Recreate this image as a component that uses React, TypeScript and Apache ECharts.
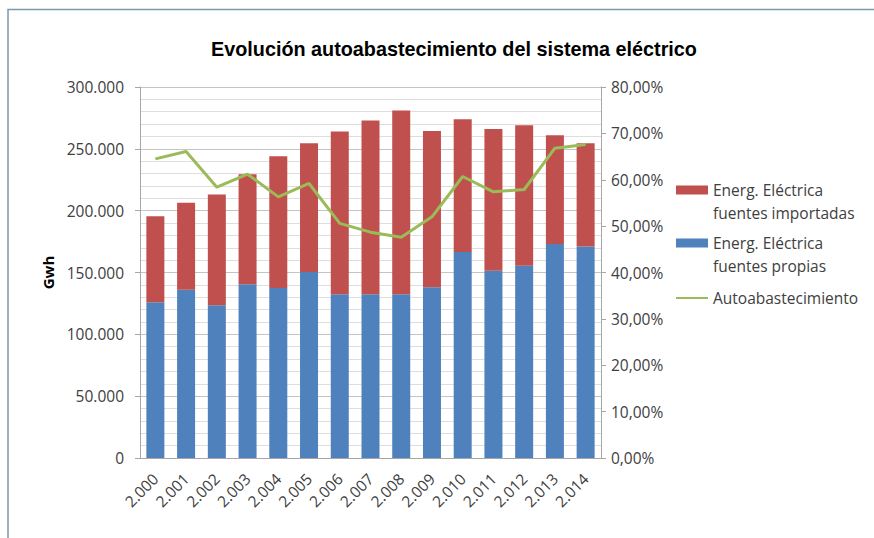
import React, { useEffect, useRef } from "react";
import * as echarts from "echarts";

const years = ["2.000", "2.001", "2.002", "2.003", "2.004", "2.005", "2.006", "2.007", "2.008", "2.009", "2.010", "2.011", "2.012", "2.013", "2.014"];
const propias = [126000, 136000, 123500, 140500, 137500, 150500, 132500, 132500, 132500, 138000, 166500, 151500, 155500, 173000, 171000];
const importadas = [69500, 70500, 89500, 89000, 106500, 104000, 131500, 140500, 148500, 126500, 107500, 114500, 113500, 88000, 83500];
const autoabastecimiento = [64.5, 66.1, 58.4, 61.2, 56.3, 59.2, 50.6, 48.7, 47.6, 52.0, 60.7, 57.4, 57.9, 66.8, 67.6];

const nameImport = "Energ. Eléctrica\nfuentes importadas";
const namePropias = "Energ. Eléctrica\nfuentes propias";
const nameAuto = "Autoabastecimiento";

const RED = "#C0504D";
const BLUE = "#4F81BD";
const GREEN = "#9BBB59";
const FONT = "'Open Sans', 'Noto Sans', sans-serif";
const TXT = "#404040";

// legend swatch aligned with the first text line (box 32 x 46, swatch 9px high)
const SWATCH = "path://M0,0 L0.01,0 L0.01,0.01 Z M0,7 L32,7 L32,16 L0,16 Z M0,46 L0.01,46 L0.01,45.99 Z";

function fmtThousands(v: number): string {
  const s = Math.round(v).toString();
  return s.replace(/\B(?=(\d{3})+(?!\d))/g, ".");
}

export default function App() {
  const ref = useRef<HTMLDivElement>(null);
  useEffect(() => {
    if (!ref.current) return;
    const chart = echarts.init(ref.current, null, { renderer: "svg" });
    const legendBase = {
      orient: "vertical" as const,
      left: 676,
      padding: 0,
      itemWidth: 32,
      itemGap: 0,
      itemStyle: { borderWidth: 0 },
      textStyle: { fontFamily: FONT, fontSize: 15.5, color: TXT, lineHeight: 23 },
    };
    chart.setOption({
      animation: false,
      backgroundColor: "#ffffff",
      title: {
        text: "Evolución autoabastecimiento del sistema eléctrico",
        left: 449,
        textAlign: "center",
        top: 34,
        textStyle: { fontFamily: "'Liberation Sans', Arial, sans-serif", fontSize: 19.8, fontWeight: "bold", color: "#000" },
      },
      graphic: [
        {
          type: "polyline",
          shape: { points: [[8, 538], [8, 9.5], [874, 9.5]] },
          style: { stroke: "#7d98ab", lineWidth: 1.5, fill: "none" },
          silent: true,
        },
      ],
      legend: [
        {
          ...legendBase,
          top: 178.5,
          itemHeight: 46,
          icon: SWATCH,
          data: [nameImport],
        },
        {
          ...legendBase,
          top: 231.5,
          itemHeight: 46,
          icon: SWATCH,
          data: [namePropias],
        },
        {
          ...legendBase,
          top: 286.5,
          itemHeight: 2,
          icon: "rect",
          data: [nameAuto],
        },
      ],
      grid: { left: 140, right: 273, top: 87, bottom: 80, containLabel: false },
      xAxis: {
        type: "category",
        data: years,
        axisLine: { lineStyle: { color: "#a6a6a6", width: 1 } },
        axisTick: { show: false },
        axisLabel: { rotate: 45, fontFamily: FONT, fontSize: 15.5, color: TXT, margin: 18, interval: 0 },
      },
      yAxis: [
        {
          type: "value",
          min: 0,
          max: 300000,
          interval: 50000,
          name: "Gwh",
          nameLocation: "middle",
          nameGap: 84,
          nameRotate: 90,
          nameTextStyle: { fontFamily: FONT, fontSize: 15, fontWeight: "bold", color: "#000" },
          axisLine: { show: true, lineStyle: { color: "#a6a6a6" } },
          axisTick: { show: true, length: 5, lineStyle: { color: "#a6a6a6" } },
          axisLabel: { fontFamily: FONT, fontSize: 15.5, color: TXT, margin: 16, formatter: (v: number) => fmtThousands(v) },
          splitLine: { show: true, lineStyle: { color: "#c4c4c4", width: 1 } },
          minorSplitLine: { show: true, lineStyle: { color: "#dedede", width: 1 } },
          minorTick: { show: false, splitNumber: 5 },
        },
        {
          type: "value",
          min: 0,
          max: 80,
          interval: 10,
          position: "right",
          axisLine: { show: true, lineStyle: { color: "#a6a6a6" } },
          axisTick: { show: true, length: 5, lineStyle: { color: "#a6a6a6" } },
          axisLabel: {
            fontFamily: FONT,
            fontSize: 15.5,
            color: TXT,
            margin: 10,
            formatter: (v: number) => v.toFixed(2).replace(".", ",") + "%",
          },
          splitLine: { show: false },
        },
      ],
      series: [
        {
          name: namePropias,
          type: "bar",
          stack: "total",
          data: propias,
          barWidth: 18,
          itemStyle: { color: BLUE },
        },
        {
          name: nameImport,
          type: "bar",
          stack: "total",
          data: importadas,
          barWidth: 18,
          itemStyle: { color: RED },
        },
        {
          name: nameAuto,
          type: "line",
          yAxisIndex: 1,
          data: autoabastecimiento,
          showSymbol: false,
          symbol: "none",
          lineStyle: { color: GREEN, width: 3 },
          itemStyle: { color: GREEN },
        },
      ],
    });
    return () => chart.dispose();
  }, []);
  return (
    <div
      ref={ref}
      style={{ position: "absolute", left: 0, top: 0, width: 874, height: 538, background: "#fff" }}
    />
  );
}
